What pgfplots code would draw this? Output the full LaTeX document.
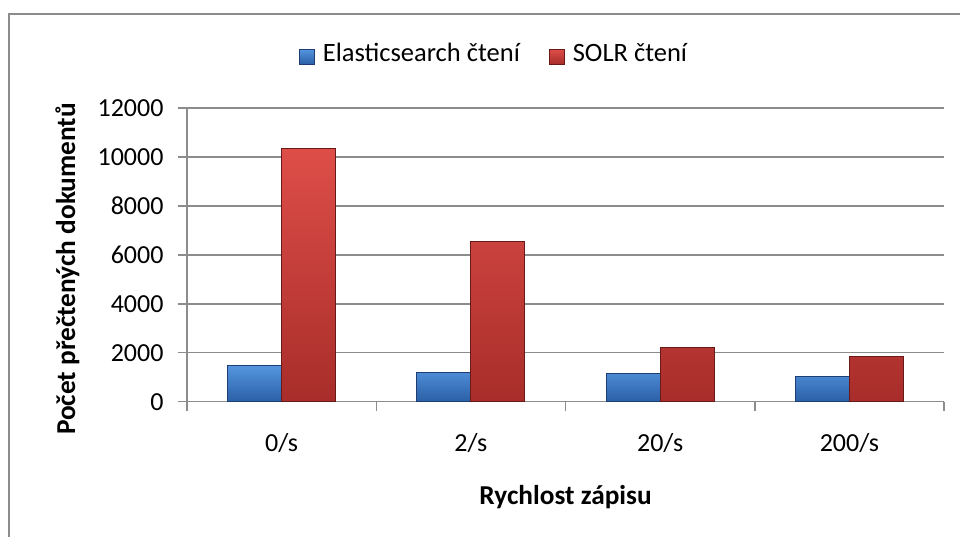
\documentclass[border=0pt]{standalone}
\usepackage{fontspec}
\setmainfont{Carlito}
\usepackage{pgfplots}
\pgfplotsset{compat=1.18}
\definecolor{bluetop}{RGB}{85,150,225}
\definecolor{bluebot}{RGB}{42,95,165}
\definecolor{blueedge}{RGB}{30,62,115}
\definecolor{redtop}{RGB}{222,78,72}
\definecolor{redbot}{RGB}{168,45,42}
\definecolor{rededge}{RGB}{105,26,24}
\definecolor{gridgray}{RGB}{140,140,140}
\newcommand{\bigf}{\fontsize{26}{31}\selectfont}
\newcommand{\labf}{\fontsize{27.3}{32}\selectfont}
\newcommand{\legf}{\fontsize{26.5}{31}\selectfont}
\begin{document}
\begin{tikzpicture}
\path[use as bounding box] (0pt,0pt) rectangle (960pt,537pt);
\draw[line width=2pt, gridgray] (9pt,0pt) -- (9pt,523pt) -- (960pt,523pt);
\begin{axis}[
  at={(187pt,135.3pt)}, anchor=south west,
  width=757pt, height=293.7pt, scale only axis,
  ymin=0, ymax=12000, ytick={0,2000,...,12000},
  xmin=-0.5, xmax=3.5,
  xtick={0,1,2,3}, xticklabels={0/s,2/s,20/s,200/s},
  minor xtick={-0.5,0.5,1.5,2.5,3.5},
  major x tick style={draw=none},
  tick align=outside,
  major tick length=9pt, minor tick length=9pt,
  every tick/.style={gridgray, line width=1.5pt},
  axis x line*=bottom, axis y line*=left,
  axis line style={gridgray, line width=1.5pt, -},
  ymajorgrids, grid style={gridgray, line width=1.5pt},
  scaled y ticks=false,
  /pgf/number format/assume math mode=true,
  /pgf/number format/set thousands separator={},
  tick label style={font=\bigf, black},
  yticklabel style={xshift=-11pt},
  xticklabel style={yshift=-19pt},
  ybar=0pt, bar width=54pt,
  xlabel={\textbf{Rychlost zápisu}},
  ylabel={\textbf{Počet přečtených dokumentů}},
  every axis x label/.style={at={(axis description cs:0.5,-0.325)}, anchor=center, font=\labf},
  every axis y label/.style={at={(axis description cs:-0.158,0.452)}, rotate=90, anchor=center, font=\labf},
  legend style={at={(axis description cs:0.4055,1.187)}, anchor=center, draw=none,
    font=\legf, legend columns=2,
    /tikz/every even column/.append style={column sep=27pt}},
  legend image code/.code={\path[#1] (0pt,-11pt) rectangle (15pt,4pt); \path (21pt,0pt);},
]
\addplot[draw=blueedge, line width=1pt, top color=bluetop, bottom color=bluebot]
  coordinates {(0,1490) (1,1200) (2,1160) (3,1040)};
\addplot[draw=rededge, line width=1pt, top color=redtop, bottom color=redbot]
  coordinates {(0,10350) (1,6555) (2,2225) (3,1855)};
\legend{Elasticsearch čtení, SOLR čtení}
\end{axis}
\end{tikzpicture}
\end{document}
